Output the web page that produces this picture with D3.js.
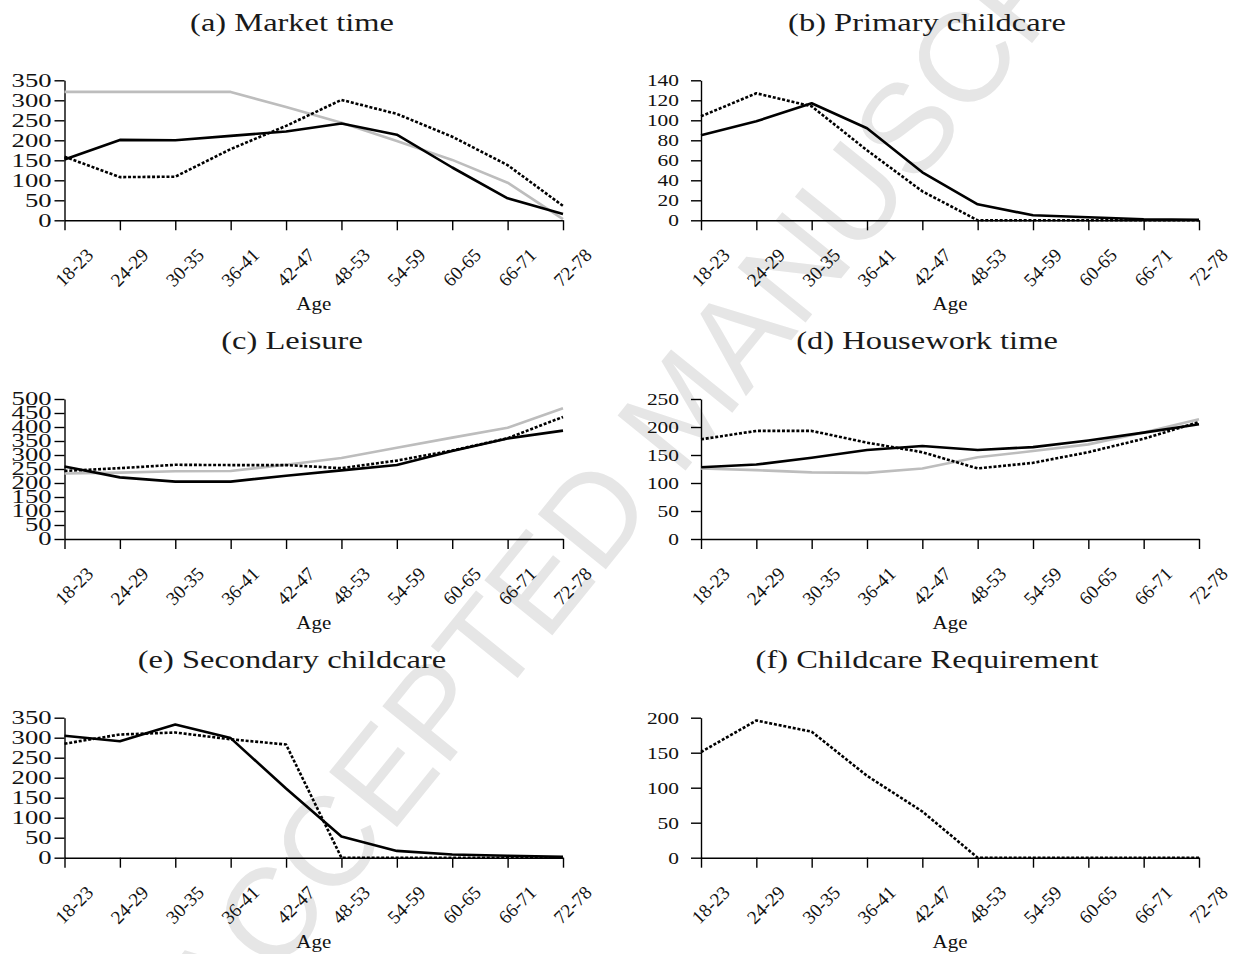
<!DOCTYPE html>
<html>
<head>
<meta charset="utf-8">
<script src="https://cdn.jsdelivr.net/npm/d3@7"></script>
<style>
  html, body { margin: 0; padding: 0; background: #fff; }
  svg { display: block; }
  .axis path, .axis line { stroke: #000; stroke-width: 1.4; }
  .axis text, .axis-label { font-family: "Liberation Serif", "Times New Roman", serif; fill: #111; }
  .title { font-family: "Liberation Serif", "Times New Roman", serif; font-size: 25px; fill: #1a1a1a; }
  .watermark { font-family: "Liberation Sans", Arial, sans-serif; fill: #e6e6e6; }
</style>
</head>
<body>
<svg id="chart" width="1233" height="954"></svg>
<script>
const AGE_GROUPS = ["18-23", "24-29", "30-35", "36-41", "42-47", "48-53", "54-59", "60-65", "66-71", "72-78"];

// (a) market time
const MARKET_GRAY = [321, 321, 321, 321, 283, 244, 198, 151, 94, 3];
const MARKET_SOLID = [152, 201, 200, 211, 222, 242, 214, 132, 55, 16];
const MARKET_DOTTED = [159, 108, 109, 178, 236, 301, 266, 209, 138, 36];

// (b) primary childcare
const PRIMARY_SOLID = [85, 99, 117, 92, 48, 16, 5, 3, 1, 0.5];
const PRIMARY_DOTTED = [104, 127, 114, 70, 29, 0, 0, 0, 0, 0];

// (c) leisure
const LEISURE_GRAY = [234, 237, 242, 243, 265, 289, 326, 362, 397, 467];
const LEISURE_SOLID = [259, 220, 205, 205, 226, 245, 264, 314, 359, 387];
const LEISURE_DOTTED = [243, 253, 265, 264, 264, 253, 280, 316, 360, 436];

// (d) housework time
const HOUSEWORK_GRAY = [126, 123, 119, 118, 126, 146, 157, 169, 190, 214];
const HOUSEWORK_SOLID = [128, 133, 145, 159, 166, 159, 164, 176, 190, 205];
const HOUSEWORK_DOTTED = [178, 193, 193, 172, 155, 126, 136, 155, 179, 209];

// (e) secondary childcare
const SECONDARY_SOLID = [305, 291, 333, 299, 173, 53, 17, 8, 5, 2];
const SECONDARY_DOTTED = [285, 308, 313, 296, 283, 0, 0, 0, 0, 0];

// (f) childcare requirement
const REQUIREMENT_DOTTED = [151, 196, 180, 117, 66, 0, 0, 0, 0, 0];

const PANELS = [
  { title: "(a) Market time", yMax: 350, step: 50,
    series: [["gray", MARKET_GRAY], ["solid", MARKET_SOLID], ["dotted", MARKET_DOTTED]] },
  { title: "(b) Primary childcare", yMax: 140, step: 20,
    series: [["solid", PRIMARY_SOLID], ["dotted", PRIMARY_DOTTED]] },
  { title: "(c) Leisure", yMax: 500, step: 50,
    series: [["gray", LEISURE_GRAY], ["solid", LEISURE_SOLID], ["dotted", LEISURE_DOTTED]] },
  { title: "(d) Housework time", yMax: 250, step: 50,
    series: [["gray", HOUSEWORK_GRAY], ["solid", HOUSEWORK_SOLID], ["dotted", HOUSEWORK_DOTTED]] },
  { title: "(e) Secondary childcare", yMax: 350, step: 50,
    series: [["solid", SECONDARY_SOLID], ["dotted", SECONDARY_DOTTED]] },
  { title: "(f) Childcare Requirement", yMax: 200, step: 50,
    series: [["dotted", REQUIREMENT_DOTTED]] },
];

const LINE_STYLES = {
  gray: { stroke: "#bdbdbd", width: 2.6, dash: null },
  solid: { stroke: "#000", width: 2.6, dash: null },
  dotted: { stroke: "#000", width: 2.6, dash: "3,1.8" },
};

// left and right column geometry
const COLUMNS = [
  { left: 64.5, right: 563, titleX: 292, labelSize: 18, labelScale: 1.48, labelGap: 3 },
  { left: 701, right: 1199, titleX: 927, labelSize: 17, labelScale: 1.26, labelGap: 12 },
];
const ROW_STEP = 318.7;
const PLOT_TOP = 80.3;
const PLOT_BOTTOM = 220.3;
const TITLE_BASELINE = 30.7;
const TICK = 10;

const svg = d3.select("#chart");

svg.append("text")
  .attr("class", "watermark")
  .attr("font-size", 127)
  .attr("text-anchor", "middle")
  .attr("dy", "0.36em")
  .attr("transform", "translate(679,406) rotate(-51)")
  .text("ACCEPTED MANUSCRIPT");

PANELS.forEach((panel, index) => {
  const col = COLUMNS[index % 2];
  const row = Math.floor(index / 2);
  const top = PLOT_TOP + row * ROW_STEP;
  const bottom = PLOT_BOTTOM + row * ROW_STEP;

  const x = d3.scalePoint().domain(AGE_GROUPS).range([col.left, col.right]);
  const y = d3.scaleLinear().domain([0, panel.yMax]).range([bottom, top]);

  const g = svg.append("g");

  g.append("text")
    .attr("class", "title")
    .attr("text-anchor", "middle")
    .attr("transform", `translate(${col.titleX},${TITLE_BASELINE + row * ROW_STEP}) scale(1.3,1)`)
    .text(panel.title);

  const yAxis = g.append("g")
    .attr("class", "axis")
    .attr("transform", `translate(${col.left},0)`)
    .call(d3.axisLeft(y)
      .tickValues(d3.range(0, panel.yMax + 1, panel.step))
      .tickSize(TICK)
      .tickSizeOuter(0)
      .tickFormat(d3.format("d")));
  yAxis.selectAll(".tick text")
    .attr("x", null)
    .attr("font-size", col.labelSize)
    .attr("transform", `translate(${-(TICK + col.labelGap)},0) scale(${col.labelScale},1)`);

  const xAxis = g.append("g")
    .attr("class", "axis")
    .attr("transform", `translate(0,${bottom})`)
    .call(d3.axisBottom(x).tickSize(TICK).tickSizeOuter(0));
  xAxis.selectAll(".tick text")
    .attr("y", null)
    .attr("dy", "0.35em")
    .attr("font-size", 19)
    .attr("text-anchor", "middle")
    .attr("transform", "translate(9,47) rotate(-45)");

  g.append("text")
    .attr("class", "axis-label")
    .attr("font-size", 19)
    .attr("text-anchor", "middle")
    .attr("transform", `translate(${(col.left + col.right) / 2},${bottom + 90}) scale(1.1,1)`)
    .text("Age");

  const line = d3.line()
    .x((d, i) => x(AGE_GROUPS[i]))
    .y((d) => y(d));

  panel.series.forEach(([kind, values]) => {
    const style = LINE_STYLES[kind];
    g.append("path")
      .datum(values)
      .attr("fill", "none")
      .attr("stroke", style.stroke)
      .attr("stroke-width", style.width)
      .attr("stroke-dasharray", style.dash)
      .attr("stroke-linejoin", "round")
      .attr("d", line);
  });
});
</script>
</body>
</html>
